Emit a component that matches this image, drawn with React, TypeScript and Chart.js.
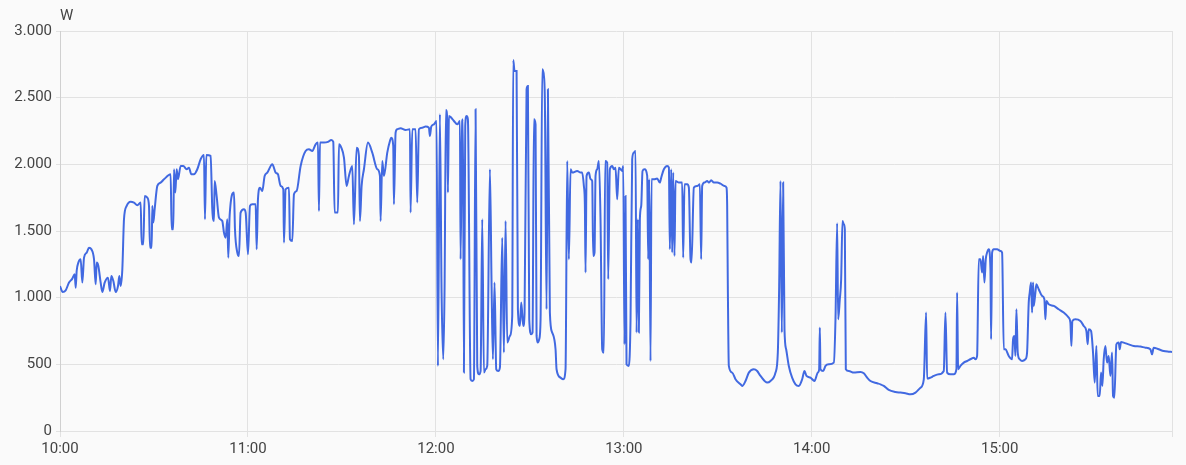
import React, { useEffect, useRef } from "react";
import { Chart, registerables } from "chart.js";

Chart.register(...registerables);

// x = minutes after 10:00, y = power in W
const hourLabels = ["10:00", "11:00", "12:00", "13:00", "14:00", "15:00"];
const unitLabel = "W";
const yMax = 3000;
const yStep = 500;
const xMaxMinutes = 355;

const hour10: [number, number][] = [
  [0, 1087], [0.86, 1043], [1.81, 1055], [2.88, 1113], [3.94, 1143], [4.69, 1175], [5.01, 1075], [5.32, 1200],
  [5.86, 1263], [6.6, 1288], [7.13, 1113], [7.67, 1300], [8.52, 1338], [9.26, 1375], [10.01, 1363], [10.86, 1288],
  [11.39, 1100], [11.71, 1263], [12.24, 1238], [12.98, 1113], [13.52, 1043], [14.26, 1113], [15.32, 1150],
  [15.96, 1050], [16.39, 1163], [17.03, 1125], [17.77, 1043], [18.52, 1088], [18.94, 1163], [19.37, 1088],
  [19.9, 1213], [20.43, 1588], [21.28, 1688], [22.56, 1720], [23.62, 1713], [24.69, 1693], [25.75, 1713],
  [26.07, 1400], [26.6, 1400], [27.03, 1763], [27.88, 1750], [28.41, 1688], [28.73, 1375], [29.26, 1375],
  [29.47, 1688], [29.79, 1563], [30.22, 1663], [31.07, 1838], [32.13, 1863], [33.2, 1888], [35.32, 1925],
  [35.64, 1513], [36.17, 1513], [36.39, 1963], [36.81, 1788], [37.24, 1963], [37.66, 1888], [38.52, 1988],
  [39.37, 1988], [40.43, 1963], [41.17, 1975], [41.92, 1925], [42.77, 1925], [43.83, 1963], [44.9, 2038],
  [45.96, 2070], [46.28, 1588], [46.71, 2070], [48.09, 2063], [48.62, 1663], [49.15, 1575], [49.37, 1875],
  [50.0, 1763], [50.75, 1600], [51.81, 1575], [52.34, 1488], [52.88, 1450], [53.41, 1588], [53.73, 1300],
  [54.15, 1613], [55.54, 1788], [55.86, 1513], [56.6, 1338], [57.13, 1313], [57.66, 1638], [58.73, 1663],
  [59.27, 1638],
];

const hour11: [number, number][] = [
  [60.01, 1325], [60.65, 1688], [61.39, 1700], [62.46, 1700], [62.78, 1363], [63.2, 1738], [63.84, 1825],
  [64.58, 1800], [65.33, 1913], [66.18, 1938], [67.78, 2000], [68.84, 1938], [69.58, 1925], [70.44, 1838],
  [71.29, 1813], [71.5, 1413], [72.03, 1813], [73.1, 1825], [73.41, 1438], [74.16, 1425], [74.69, 1775],
  [75.54, 1800], [76.82, 1988], [78.41, 2100], [79.48, 2113], [80.54, 2100], [81.61, 2150], [82.35, 2163],
  [82.67, 1650], [82.99, 2163], [84.27, 2163], [85.54, 2168], [86.61, 2183], [87.24, 2168], [87.67, 1638],
  [88.73, 1638], [89.05, 2150], [89.8, 2125], [90.65, 2050], [91.5, 1838], [92.24, 1913], [93.31, 1988],
  [93.84, 1550], [94.69, 2125], [95.43, 2063], [95.75, 1575], [96.29, 1838], [97.03, 1963], [98.31, 2163],
  [99.69, 2088], [101.29, 1963], [102.14, 1913], [102.35, 1575], [102.88, 2025], [103.41, 1913], [104.48, 2088],
  [105.33, 2175], [105.75, 2200], [106.39, 2138], [106.6, 1700], [107.14, 2238], [107.67, 2263], [108.73, 2270],
  [110.33, 2258], [111.71, 2263], [111.92, 1638], [112.46, 2263], [113.52, 2263], [114.05, 1713], [114.58, 2263],
  [115.65, 2275], [116.71, 2283], [117.77, 2275], [118.09, 2213], [118.52, 2283], [119.37, 2300],
];

const hour12: [number, number][] = [
  [120.22, 2325], [120.65, 488], [121.28, 2375], [121.82, 1038], [122.35, 538], [122.78, 1088], [123.2, 2408],
  [123.63, 2338], [123.84, 1788], [124.16, 2363], [124.91, 2350], [125.76, 2325], [126.82, 2300], [127.67, 2325],
  [127.88, 1288], [128.42, 2325], [128.63, 2338], [128.95, 438], [129.37, 2288], [129.8, 2363], [130.22, 2338],
  [131.08, 388], [131.61, 375], [132.14, 388], [132.67, 2413], [133.2, 488], [133.74, 425], [134.27, 450],
  [134.8, 1588], [135.33, 438], [135.86, 463], [136.39, 488], [137.25, 1963], [137.78, 1088], [138.2, 538],
  [138.73, 1113], [139.27, 463], [139.91, 450], [140.44, 475], [141.18, 1450], [141.71, 588], [142.25, 1575],
  [142.78, 663], [143.63, 713], [144.37, 863], [144.69, 2783], [145.12, 2700], [145.76, 2700], [146.18, 913],
  [146.82, 788], [147.25, 963], [147.88, 788], [148.31, 888], [148.95, 2563], [149.37, 2588], [149.8, 838],
  [150.44, 725], [150.86, 738], [151.29, 2338], [151.82, 2300], [152.14, 713], [152.56, 663], [152.99, 688],
  [153.42, 838], [153.95, 2713], [154.48, 2663], [154.8, 2463], [155.33, 913], [155.76, 2563], [156.39, 888],
  [157.14, 738], [158.2, 613], [158.52, 463], [159.8, 400], [160.65, 388], [161.39, 463], [161.93, 2025],
  [162.46, 1288], [162.99, 1963], [163.52, 1938], [165.12, 1950], [166.18, 1938], [166.71, 1938], [167.24, 1838],
  [167.56, 1700], [167.78, 1188], [168.1, 1913], [168.84, 1938], [169.37, 1888], [169.9, 1875], [170.22, 1313],
  [170.65, 1338], [170.97, 1913], [171.5, 1963], [172.03, 2025], [172.56, 1588], [173.1, 613], [173.63, 588],
  [174.05, 2025], [174.69, 2013], [175.01, 1138], [175.54, 1963], [176.29, 1988], [176.82, 1963], [177.35, 1975],
  [177.88, 1738], [178.41, 1975], [178.95, 1963], [179.48, 1950], [179.8, 1988],
];

const hour13: [number, number][] = [
  [180.22, 650], [180.54, 1763], [180.86, 500], [181.61, 488], [182.14, 838], [182.67, 2038], [183.21, 2088],
  [183.74, 2100], [184.06, 738], [184.48, 1588], [184.8, 738], [185.12, 1588], [185.55, 1688], [185.97, 1950],
  [186.61, 1963], [187.46, 1913], [187.78, 1288], [188.1, 1888], [188.52, 525], [188.84, 1888], [189.59, 1888],
  [190.65, 1893], [191.5, 1863], [191.93, 1900], [192.78, 1963], [193.84, 1988], [194.38, 1975], [194.69, 1363],
  [195.12, 1963], [195.44, 1338], [195.76, 1938], [196.18, 1313], [196.5, 1875], [197.57, 1863], [198.63, 1863],
  [198.95, 1300], [199.37, 1850], [200.23, 1850], [200.76, 1825], [201.29, 1288], [201.61, 1263], [202.35, 1825],
  [203.42, 1838], [204.27, 1850], [204.69, 1288], [205.01, 1838], [205.76, 1863], [206.61, 1875], [207.14, 1863],
  [207.88, 1880], [208.74, 1863], [209.8, 1863], [210.86, 1855], [212.14, 1838], [212.78, 1825], [212.99, 1688],
  [213.2, 1088], [213.52, 488], [214.59, 438], [215.65, 388], [217.25, 350], [217.78, 338], [218.84, 375],
  [219.91, 438], [221.5, 463], [222.57, 450], [223.63, 413], [225.76, 363], [226.82, 375], [228.42, 438],
  [229.16, 588], [229.59, 1088], [230.01, 1875], [230.44, 738], [230.86, 1863], [231.29, 763], [231.82, 613],
  [232.67, 488], [233.73, 400], [234.8, 350], [235.86, 338], [236.93, 388], [237.67, 450], [238.31, 413],
  [239.59, 400],
];

const hour14: [number, number][] = [
  [240.87, 375], [241.93, 438], [242.36, 463], [242.57, 775], [242.78, 463], [243.63, 450], [244.38, 488],
  [245.44, 500], [247.04, 513], [247.57, 838], [248.1, 1558], [248.42, 838], [248.95, 988], [249.38, 1138],
  [249.8, 1575], [250.23, 1550], [250.55, 1513], [250.87, 463], [251.82, 450], [253.42, 438], [255.55, 443],
  [256.61, 433], [257.68, 400], [258.74, 375], [260.87, 358], [261.93, 350], [262.99, 338], [264.59, 308],
  [266.72, 293], [268.31, 288], [269.91, 283], [271.5, 275], [273.1, 288], [274.7, 325], [275.76, 388],
  [276.5, 888], [276.82, 393], [277.89, 400], [278.95, 413], [280.55, 425], [282.14, 450], [282.67, 888],
  [283.21, 438], [284.27, 425], [285.33, 425], [286.18, 463], [286.4, 1038], [286.72, 463], [287.46, 488],
  [288.53, 513], [289.59, 525], [290.65, 538], [291.72, 550], [292.25, 538], [292.78, 563], [293.31, 1288],
  [293.84, 1288], [294.38, 1188], [294.7, 1313], [295.12, 1113], [295.55, 1288], [295.97, 1338], [296.5, 1363],
  [297.04, 1213], [297.25, 688], [297.57, 1338], [298.1, 1363], [299.16, 1363],
];

const hour15: [number, number][] = [
  [300.23, 1350], [300.76, 1338], [301.29, 613], [301.82, 613], [302.88, 563], [303.94, 538], [304.26, 688],
  [304.69, 713], [305.01, 563], [305.33, 913], [305.75, 588], [306.39, 538], [307.13, 525], [308.2, 538],
  [308.73, 588], [309.26, 963], [309.58, 1038], [310.01, 1113], [310.33, 888], [310.65, 1113], [310.86, 938],
  [311.39, 1038], [311.71, 1100], [312.45, 1063], [313.52, 1013], [314.26, 988], [314.58, 838], [314.9, 975],
  [315.65, 950], [317.24, 938], [318.84, 913], [320.43, 888], [322.03, 850], [322.56, 813], [322.88, 638],
  [323.2, 825], [324.16, 838], [325.75, 825], [326.82, 788], [327.67, 750], [328.09, 650], [328.41, 763],
  [329.16, 750], [329.79, 588], [330.33, 363], [330.86, 638], [331.28, 263], [331.92, 263], [332.35, 438],
  [332.77, 338], [333.2, 538], [333.73, 638], [334.26, 513], [334.79, 563], [335.33, 413], [335.86, 588],
  [336.18, 263], [336.6, 250], [337.24, 650], [337.99, 663], [338.3, 613], [338.73, 668], [339.58, 663],
  [341.18, 650], [342.78, 638], [344.9, 633], [346.5, 625], [348.09, 613], [348.62, 575], [349.15, 625],
  [350.75, 613], [352.35, 600], [353.94, 595], [355.0, 593],
];

const FONT = "Roboto, 'Noto Sans', sans-serif";
const TEXT_COLOR = "#444";
const GRID_COLOR = "#e2e2e2";

function formatThousands(v: number): string {
  if (v >= 1000) {
    const th = Math.floor(v / 1000);
    const rest = Math.round(v % 1000);
    return `${th}.${String(rest).padStart(3, "0")}`;
  }
  return String(v);
}

export default function App() {
  const ref = useRef<HTMLCanvasElement>(null);

  useEffect(() => {
    document.body.style.margin = "0";
    document.body.style.background = "#fafafa";
    const all = [...hour10, ...hour11, ...hour12, ...hour13, ...hour14, ...hour15];

    const bgPlugin = {
      id: "bg",
      beforeDraw(chart: any) {
        const ctx = chart.ctx;
        ctx.save();
        ctx.fillStyle = "#fafafa";
        ctx.fillRect(0, 0, chart.width, chart.height);
        ctx.restore();
      },
      afterDraw(chart: any) {
        const ctx = chart.ctx;
        ctx.save();
        ctx.font = `15px ${FONT}`;
        ctx.fillStyle = TEXT_COLOR;
        ctx.textBaseline = "alphabetic";
        ctx.textAlign = "left";
        ctx.fillText(unitLabel, chart.chartArea.left, 20);
        ctx.restore();
      },
    };

    const chart = new Chart(ref.current as HTMLCanvasElement, {
      type: "line",
      data: {
        datasets: [
          {
            data: all.map(([x, y]) => ({ x, y })),
            borderColor: "#4169e1",
            borderWidth: 2,
            pointRadius: 0,
            cubicInterpolationMode: "monotone",
            fill: false,
          },
        ],
      },
      options: {
        animation: false,
        responsive: false,
        maintainAspectRatio: false,
        layout: { padding: { top: 31, right: 14, left: 0, bottom: 0 } },
        plugins: { legend: { display: false }, tooltip: { enabled: false } },
        scales: {
          x: {
            type: "linear",
            min: 0,
            max: xMaxMinutes,
            afterFit: (s: any) => {
              s.height = 34;
            },
            ticks: {
              stepSize: 60,
              autoSkip: false,
              maxRotation: 0,
              padding: 3,
              color: TEXT_COLOR,
              font: { family: FONT, size: 15 },
              callback: (v: any) => {
                const n = Number(v);
                return n % 60 === 0 ? hourLabels[n / 60] ?? "" : "";
              },
            },
            grid: { color: GRID_COLOR, tickLength: 6 },
            border: { color: GRID_COLOR },
          },
          y: {
            min: 0,
            max: yMax,
            afterFit: (s: any) => {
              s.width = 60;
            },
            ticks: {
              stepSize: yStep,
              padding: 4,
              color: TEXT_COLOR,
              font: { family: FONT, size: 15 },
              callback: (v: any) => formatThousands(Number(v)),
            },
            grid: { color: GRID_COLOR, tickLength: 4 },
            border: { color: "#d0d0d0" },
          },
        },
      },
      plugins: [bgPlugin],
    } as any);

    return () => chart.destroy();
  }, []);

  return <canvas ref={ref} width={1186} height={465} style={{ display: "block" }} />;
}
